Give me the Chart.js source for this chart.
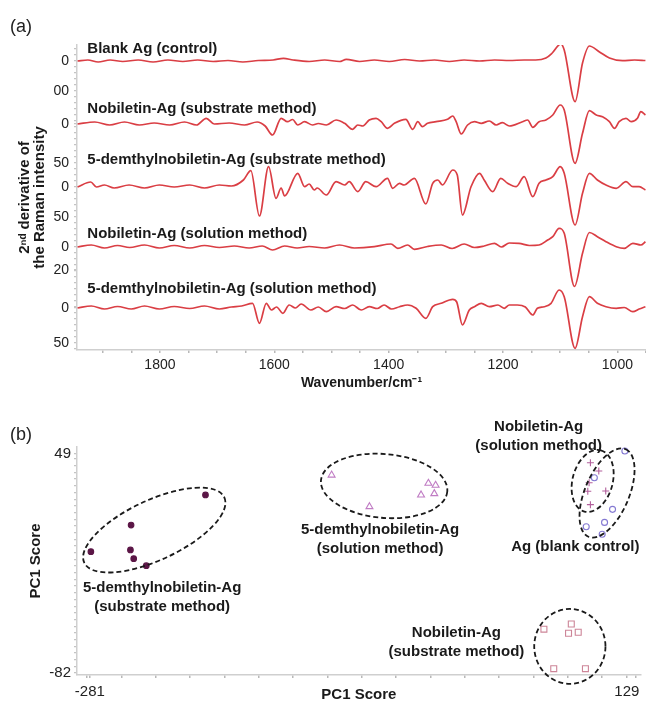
<!DOCTYPE html>
<html><head><meta charset="utf-8">
<script src="https://cdn.jsdelivr.net/npm/chart.js@4"></script>
<style>
html,body{margin:0;padding:0;background:#fff;width:646px;height:711px;overflow:hidden}
#ca{position:absolute;left:0;top:0}
#cb{position:absolute;left:0;top:395px}
</style></head><body>
<canvas id="ca" width="646" height="395"></canvas>
<canvas id="cb" width="646" height="316"></canvas>
<script>
// ---------- Panel (a): 2nd-derivative Raman spectra ----------
const spectrumNames = ['Blank Ag (control)', 'Nobiletin-Ag (substrate method)', '5-demthylnobiletin-Ag (substrate method)', 'Nobiletin-Ag (solution method)', '5-demthylnobiletin-Ag (solution method)'];
const wn1 = [1944,1926,1908,1887,1865,1838,1812,1786,1760,1734,1707,1681,1655,1628,1602,1584,1567,1539,1512,1486,1474,1451,1425,1399,1372,1346,1320,1294,1268,1241,1215,1189,1163,1143,1125,1114,1099,1093,1074,1061,1049,1032,1014,991,970,951];
const d1  = [0,1,-1,1,-0.5,1,-1,1,-0.5,1,-0.5,0.5,-1,0.5,1,2.7,1,-0.5,1,-0.5,1.7,-0.5,1,-0.5,1.5,0,1,-0.5,1,0,1,0.5,1,1,3,8,17,11,-40.7,-2,15,9.3,3,0.3,1,0.5];
const wn2 = [1944,1914,1888,1862,1836,1810,1783,1757,1736,1719,1705,1679,1652,1630,1616,1603,1588,1577,1568,1559,1547,1533,1523,1509,1492,1477,1463,1454,1445,1434,1422,1413,1402,1390,1370,1358,1349,1341,1332,1317,1297,1288,1282,1273,1262,1250,1238,1224,1212,1201,1189,1166,1157,1148,1137,1125,1113,1100,1093,1074,1061,1049,1037,1026,1014,1005,997,985,976,965,959,951];
const d2  = [0,2,-1,2,-1,1,-1,2,-1,5.7,0,1,-1,2,-2,-11,5.7,2.3,4.5,-1,2.3,-1,0.5,-1,4,0.7,-5.3,-1,-2,4,5.7,2.3,-4.3,0.7,4.7,-5.3,2.3,-2.7,0.7,2.3,4.7,8,2.3,-10,-1,2.3,0.7,3,-1,1.3,-2,2.3,4,-3.3,2.3,4,9,19,14,-39.3,-9.3,13.3,9,7.3,2.3,-4.3,2.3,5.7,2.3,5.7,12.3,9];
const wn3 = [1944,1921,1911,1897,1880,1854,1827,1801,1775,1748,1722,1696,1675,1654,1641,1626,1610,1597,1588,1582,1559,1547,1539,1530,1525,1509,1492,1477,1469,1454,1440,1422,1402,1393,1381,1373,1355,1335,1323,1314,1306,1288,1280,1271,1256,1241,1233,1218,1204,1192,1177,1163,1148,1137,1125,1113,1100,1093,1074,1061,1049,1035,1020,1002,985,973,962,951];
const d3  = [0,5,0,2,-1,2,-1,2,0,2,-1,2,1,7,16.3,-29,20.3,-11.3,-1,-9,13.7,0.3,3,-3,-1,-8,5.3,2,5.3,-4.7,5.3,0.3,8.7,-1.3,3.7,2,8.7,-17,3.7,7,2,17,12,-28,0.3,13.7,7,-4.7,8.7,3.7,0.3,10.3,-9.7,3.7,7,10.3,20.3,13.7,-38,-6.3,13.7,7,2,-1.3,5.3,0.3,0.3,-3];
const wn4 = [1944,1920,1897,1874,1853,1827,1801,1775,1748,1722,1696,1670,1644,1621,1603,1582,1560,1539,1512,1486,1460,1425,1396,1384,1367,1355,1332,1308,1289,1268,1250,1233,1215,1203,1189,1172,1154,1137,1122,1113,1102,1093,1075,1061,1049,1035,1020,1002,988,973,959,951];
const d4  = [0,2,-1,1.5,-0.5,2,-1,1.5,-1,1.5,-0.5,1,-1,1,-3,1,-1,0.5,-1,2,-1,0.3,3,-1.3,2,-2.3,0.5,2,-1.5,3,-0.5,1,3.7,0,4,3.7,1.5,2,7,10.3,18.7,13.7,-39.5,-6.3,14.5,10.3,5.3,0.3,-1.3,3.7,2,5.3];
const wn5 = [1944,1920,1897,1874,1850,1827,1801,1775,1748,1722,1696,1675,1657,1638,1626,1614,1605,1596,1585,1574,1563,1553,1536,1523,1509,1492,1477,1463,1448,1434,1420,1408,1395,1381,1367,1352,1335,1323,1308,1288,1281,1271,1259,1250,1238,1224,1209,1198,1189,1175,1161,1148,1140,1128,1116,1102,1093,1074,1061,1049,1035,1020,1002,988,973,962,951];
const d5  = [0,2,-1,1.5,-1,2,-1,1.5,-0.5,2,-1,1,2,4.7,-15.3,4.7,-2,1,-5.3,3,0,4,-2,1,-3.7,1.3,-0.5,3,-2,1.3,-0.5,3,-1,1.3,3,-0.3,-10.3,1.3,4.7,8.7,6,-17,-2,1.3,4.7,1.3,3,-0.3,3,3,1,-7,-0.3,1.3,4.7,18,11.3,-40.3,-8.7,11.3,4.7,1.3,-0.3,0.5,-3.7,-1,1.3];
const spectraWn = [wn1, wn2, wn3, wn4, wn5];
const spectraVal = [d1, d2, d3, d4, d5];
const stackOffsets = [289, 226, 163, 103, 42];
const xTicksA = [1800, 1600, 1400, 1200, 1000];
const yTickValsA = [289, 259, 226, 187, 163, 133, 103, 80, 42, 7];
const yTickLabelsA = ['0', '00', '0', '50', '0', '50', '0', '20', '0', '50'];

// ---------- Panel (b): PCA scores ----------
const groupNames = ['5-demthylnobiletin-Ag (substrate method)', '5-demthylnobiletin-Ag (solution method)', 'Nobiletin-Ag (solution method)', 'Ag (blank control)', 'Nobiletin-Ag (substrate method)'];
const g1x = [-192.7, -249.5, -280.2, -250, -247.5, -237.9];
const g1y = [24.5, 6.5, -9.4, -8.4, -13.6, -17.8];
const g2x = [-96.4, -22.5, -17, -28.1, -18, -67.5];
const g2y = [36.4, 31.5, 30.3, 24.5, 25.3, 17.5];
const g3x = [101.2, 107.6, 100.2, 112.9, 99.2, 101.2];
const g3y = [43.8, 38.8, 31.8, 26.9, 26.7, 18.7];
const g4x = [127.5, 104.2, 118.1, 112, 98, 110.2];
const g4y = [50.8, 34.8, 15.9, 8.1, 5.5, 1];
const g5x = [65.7, 86.6, 84.5, 91.9, 73.2, 97.4];
const g5y = [-55.8, -52.7, -58.2, -57.6, -79.4, -79.4];
const xTicksB = [-281, 129];
const yTicksB = [-82, 49];

const FONT = 'Liberation Sans, Arial, Helvetica, sans-serif';
const LINE_COLOR = 'rgb(218,62,68)';

// annotation plugin: ellipses, labels, panel letters
const annotPlugin = {
  id: 'annot',
  afterDatasetsDraw(chart, args, opts) {
    const ctx = chart.ctx;
    const xs = chart.scales.x, ys = chart.scales.y;
    ctx.save();
    (opts.ellipses || []).forEach(e => {
      const px = xs.getPixelForValue(e.cx), py = ys.getPixelForValue(e.cy);
      const kx = Math.abs(xs.getPixelForValue(1) - xs.getPixelForValue(0));
      const ky = Math.abs(ys.getPixelForValue(1) - ys.getPixelForValue(0));
      ctx.beginPath();
      ctx.setLineDash([5, 3]);
      ctx.lineWidth = 1.8;
      ctx.strokeStyle = '#1a1a1a';
      ctx.ellipse(px, py, e.rx * kx, e.ry * ky, e.rot * Math.PI / 180, 0, 2 * Math.PI);
      ctx.stroke();
    });
    ctx.setLineDash([]);
    (opts.labels || []).forEach(l => {
      const px = xs.getPixelForValue(l.x), py = ys.getPixelForValue(l.y);
      ctx.font = 'bold 15px ' + FONT;
      ctx.fillStyle = '#1a1a1a';
      ctx.textAlign = l.align || 'center';
      ctx.textBaseline = 'middle';
      l.lines.forEach((t, i) => ctx.fillText(t, px, py + i * 19));
    });
    if (opts.panel) {
      ctx.font = '18px ' + FONT;
      ctx.fillStyle = '#222';
      ctx.textAlign = 'left';
      ctx.textBaseline = 'middle';
      ctx.fillText(opts.panel.text, opts.panel.x, opts.panel.y);
    }
    ctx.restore();
  }
};

function range(a, b, step) { const r = []; for (let v = a; v <= b + 1e-9; v += step) r.push(+v.toFixed(3)); return r; }

// ---------- Chart A ----------
const dsA = spectraWn.map((wn, k) => ({
  label: spectrumNames[k],
  data: wn.map((w, i) => ({ x: w, y: stackOffsets[k] + spectraVal[k][i] })),
  borderColor: LINE_COLOR,
  borderWidth: 1.7,
  pointRadius: 0,
  cubicInterpolationMode: 'monotone',
  fill: false
}));

new Chart(document.getElementById('ca'), {
  type: 'line',
  data: { datasets: dsA },
  plugins: [annotPlugin],
  options: {
    responsive: false,
    animation: false,
    events: [],
    layout: { padding: { top: 45, right: 0, left: 0, bottom: 0 } },
    plugins: {
      legend: { display: false },
      tooltip: { enabled: false },
      annot: {
        panel: { text: '(a)', x: 10, y: 27 },
        labels: [
          { x: 1927, y: 301.5, lines: [spectrumNames[0]], align: 'left' },
          { x: 1927, y: 241.5, lines: [spectrumNames[1]], align: 'left' },
          { x: 1927, y: 190, lines: [spectrumNames[2]], align: 'left' },
          { x: 1927, y: 116.5, lines: [spectrumNames[3]], align: 'left' },
          { x: 1927, y: 61.5, lines: [spectrumNames[4]], align: 'left' }
        ]
      }
    },
    scales: {
      x: {
        type: 'linear', reverse: true, min: 950, max: 1945,
        afterFit: s => { s.height = 45; },
        afterBuildTicks: s => {
          const vals = [...new Set(range(950, 1900, 50).concat(xTicksA))].sort((a, b) => a - b);
          s.ticks = vals.map(v => ({ value: v }));
        },
        ticks: {
          autoSkip: false, maxRotation: 0, padding: 4, color: '#222',
          font: { family: FONT, size: 14 },
          callback: v => xTicksA.includes(v) ? String(v) : ''
        },
        grid: { drawOnChartArea: false, drawTicks: true, tickLength: 3, color: '#b8b8b8', lineWidth: 1.5 },
        border: { color: '#cfcfcf', width: 1.5 },
        title: { display: true, text: 'Wavenumber/cm⁻¹', color: '#1a1a1a', font: { family: FONT, size: 14, weight: 'bold', lineHeight: 1.2 }, padding: { top: 0, bottom: 3.5 } }
      },
      y: {
        type: 'linear', min: 0, max: 305,
        afterFit: s => { s.width = 77; },
        afterBuildTicks: s => {
          const vals = [...new Set(range(1, 301, 6).concat(yTickValsA))].sort((a, b) => a - b);
          s.ticks = vals.map(v => ({ value: v }));
        },
        ticks: {
          autoSkip: false, padding: 5, color: '#222',
          font: { family: FONT, size: 14 },
          callback: v => { const i = yTickValsA.indexOf(v); return i >= 0 ? yTickLabelsA[i] : ''; }
        },
        grid: { drawOnChartArea: false, drawTicks: true, tickLength: 3, color: '#c4c4c4', lineWidth: 1.2 },
        border: { color: '#cfcfcf', width: 1.5 },
        title: { display: true, text: ['2ⁿᵈ derivative of', 'the Raman intensity'], color: '#1a1a1a', font: { family: FONT, size: 15, weight: 'bold', lineHeight: 1.0 }, padding: { top: 17.5, bottom: 0 } }
      }
    }
  }
});

// ---------- Chart B ----------
const groupX = [g1x, g2x, g3x, g4x, g5x];
const groupY = [g1y, g2y, g3y, g4y, g5y];
const groupStyle = [
  { pointStyle: 'circle', radius: 2.8, border: '#5b1646', fill: '#5b1646' },
  { pointStyle: 'triangle', radius: 4, border: '#c07cc4', fill: 'rgba(0,0,0,0)' },
  { pointStyle: 'cross', radius: 3.5, border: '#b25f9c', fill: 'rgba(0,0,0,0)' },
  { pointStyle: 'circle', radius: 3, border: '#8479d2', fill: 'rgba(0,0,0,0)' },
  { pointStyle: 'rect', radius: 4.2, border: '#cd8598', fill: 'rgba(0,0,0,0)' }
];
const dsB = groupX.map((gx, k) => ({
  label: groupNames[k],
  data: gx.map((x, i) => ({ x: x, y: groupY[k][i] })),
  pointStyle: groupStyle[k].pointStyle,
  pointRadius: groupStyle[k].radius,
  borderColor: groupStyle[k].border,
  backgroundColor: groupStyle[k].fill,
  pointBorderWidth: 1.1,
  clip: false
}));

new Chart(document.getElementById('cb'), {
  type: 'scatter',
  data: { datasets: dsB },
  plugins: [annotPlugin],
  options: {
    responsive: false,
    animation: false,
    events: [],
    layout: { padding: { top: 52, right: 0, left: 0, bottom: 0 } },
    plugins: {
      legend: { display: false },
      tooltip: { enabled: false },
      annot: {
        panel: { text: '(b)', x: 10, y: 40 },
        ellipses: [
          { cx: -231.8, cy: 3.5, rx: 59, ry: 17.9, rot: -25 },
          { cx: -56.3, cy: 29.9, rx: 48.4, ry: 19.1, rot: 5 },
          { cx: 102.9, cy: 32.9, rx: 24.2, ry: 12, rot: -75 },
          { cx: 113.9, cy: 25.7, rx: 36.3, ry: 13.2, rot: -67 },
          { cx: 85.5, cy: -66.1, rx: 27.2, ry: 22.4, rot: 0 }
        ],
        labels: [
          { x: -225.8, y: -31.1, lines: ['5-demthylnobiletin-Ag', '(substrate method)'] },
          { x: -59.4, y: 3.5, lines: ['5-demthylnobiletin-Ag', '(solution method)'] },
          { x: 61.7, y: 65.3, lines: ['Nobiletin-Ag', '(solution method)'] },
          { x: 89.7, y: -6.4, lines: ['Ag (blank control)'] },
          { x: -1.1, y: -58.2, lines: ['Nobiletin-Ag', '(substrate method)'] }
        ]
      }
    },
    scales: {
      x: {
        type: 'linear', min: -290.8, max: 139.6,
        afterFit: s => { s.height = 36; },
        afterBuildTicks: s => {
          const vals = [...new Set(range(-283, 139, 26.2).concat(xTicksB))].sort((a, b) => a - b);
          s.ticks = vals.map(v => ({ value: v }));
        },
        ticks: {
          autoSkip: false, maxRotation: 0, padding: 5, color: '#222',
          font: { family: FONT, size: 15 },
          callback: v => xTicksB.includes(v) ? String(v) : ''
        },
        grid: { drawOnChartArea: false, drawTicks: true, tickLength: 3, color: '#b8b8b8', lineWidth: 1.5 },
        border: { color: '#cfcfcf', width: 1.5 },
        title: { display: true, text: 'PC1 Score', color: '#1a1a1a', font: { family: FONT, size: 15, weight: 'bold', lineHeight: 1.2 }, padding: { top: 0, bottom: 7 } }
      },
      y: {
        type: 'linear', min: -83.2, max: 53.2,
        afterFit: s => { s.width = 77; },
        afterBuildTicks: s => {
          const vals = [...new Set(range(-82, 49, 4).concat(yTicksB))].sort((a, b) => a - b);
          s.ticks = vals.map(v => ({ value: v }));
        },
        ticks: {
          autoSkip: false, padding: 3, color: '#222',
          font: { family: FONT, size: 15 },
          callback: v => yTicksB.includes(v) ? String(v) : ''
        },
        grid: { drawOnChartArea: false, drawTicks: true, tickLength: 3, color: '#c4c4c4', lineWidth: 1.2 },
        border: { color: '#cfcfcf', width: 1.5 },
        title: { display: true, text: 'PC1 Score', color: '#1a1a1a', font: { family: FONT, size: 15, weight: 'bold', lineHeight: 1.2 }, padding: { top: 27, bottom: 0 } }
      }
    }
  }
});
</script>
</body></html>
